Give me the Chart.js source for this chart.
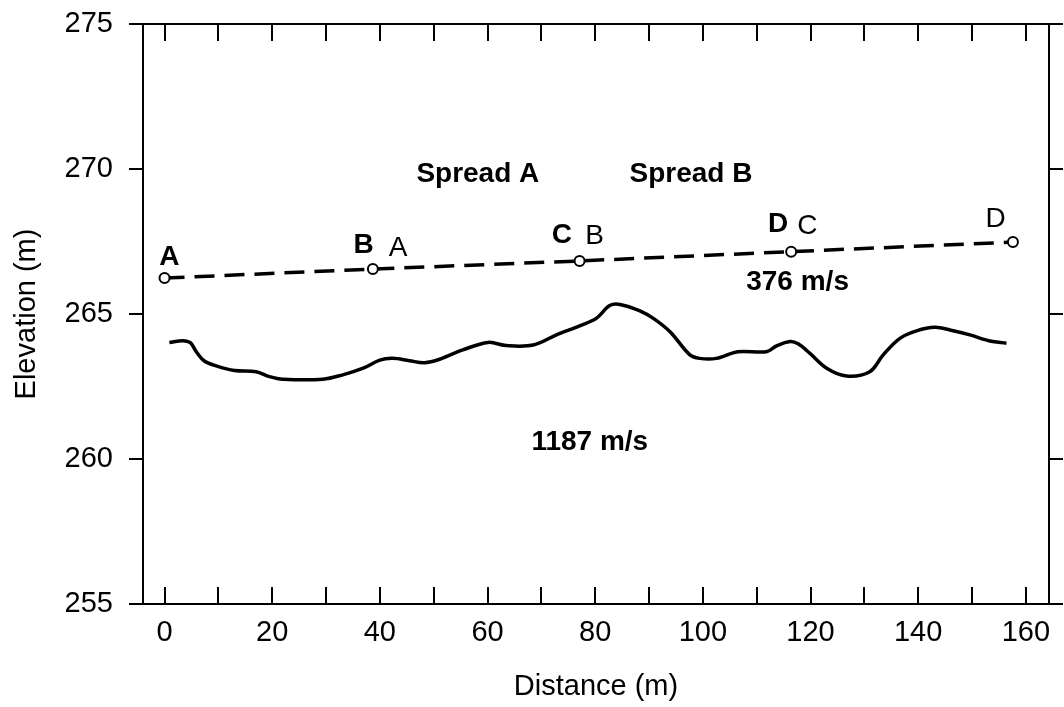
<!DOCTYPE html>
<html>
<head>
<meta charset="utf-8">
<script src="https://cdn.jsdelivr.net/npm/chart.js@4.4.0/dist/chart.umd.min.js"></script>
<style>
  html, body { margin: 0; padding: 0; background: #fff; }
  #wrap { width: 1064px; height: 707px; }
</style>
</head>
<body>
<div id="wrap"><canvas id="profile"></canvas></div>
<script>
const FONT = '"Liberation Sans", Arial, Helvetica, sans-serif';

// axis ticks
const distanceTicks = [0, 20, 40, 60, 80, 100, 120, 140, 160];
const elevationTicks = [255, 260, 265, 270, 275];

// spread end points along the ground surface
const surfaceX = [0, 38.7, 77.1, 116.4, 157.6];
const surfaceY = [266.24, 266.55, 266.83, 267.15, 267.48];

// refractor picked below the line
const refractorX = [0.9, 3.4, 4.8, 5.9, 7.4, 9.6, 13.0, 17.0, 19.5, 22.0, 29.4, 33.1, 36.9, 40.0,
  42.4, 45.5, 48.3, 51.1, 55.4, 60.1, 63.5, 68.5, 72.8, 77.1, 80.2, 82.7, 84.6, 88.3, 90.8,
  93.9, 97.6, 99.4, 102.5, 106.5, 111.8, 113.7, 116.2, 117.7, 119.9, 123.0, 126.7, 131.0,
  133.5, 136.6, 139.7, 143.1, 145.9, 149.6, 153.3, 156.4];
const refractorY = [264.02, 264.08, 264.01, 263.70, 263.38, 263.21, 263.05, 263.01, 262.84, 262.75,
  262.75, 262.90, 263.13, 263.41, 263.47, 263.39, 263.32, 263.44, 263.76, 264.02, 263.91,
  263.93, 264.28, 264.59, 264.85, 265.29, 265.33, 265.11, 264.85, 264.39, 263.59, 263.47,
  263.47, 263.70, 263.70, 263.90, 264.05, 263.97, 263.64, 263.13, 262.86, 263.01, 263.59,
  264.16, 264.42, 264.54, 264.45, 264.28, 264.07, 263.99];

// text placed on the plot, anchored at (distance, elevation) of its baseline centre
const plotNotes = [
  { text: 'A', x: 0.9, y: 266.69, bold: true },
  { text: 'B', x: 37.0, y: 267.10, bold: true },
  { text: 'A', x: 43.4, y: 267.00, bold: false },
  { text: 'C', x: 73.8, y: 267.45, bold: true },
  { text: 'B', x: 79.9, y: 267.41, bold: false },
  { text: 'D', x: 114.0, y: 267.83, bold: true },
  { text: 'C', x: 119.4, y: 267.76, bold: false },
  { text: 'D', x: 154.4, y: 268.00, bold: false },
  { text: 'Spread A', x: 58.2, y: 269.55, bold: true },
  { text: 'Spread B', x: 97.8, y: 269.55, bold: true },
  { text: '376 m/s', x: 117.6, y: 265.83, bold: true },
  { text: '1187 m/s', x: 79.0, y: 260.31, bold: true }
];

const toPoints = (xs, ys) => xs.map((v, i) => ({ x: v, y: ys[i] }));
const fixTicks = list => scale => { scale.ticks = list.map(v => ({ value: v })); };

// frame top edge, inward distance ticks and the plot text
const framePlugin = {
  id: 'framePlugin',
  afterDraw(chart) {
    const { ctx, chartArea: a, scales: { x, y } } = chart;
    ctx.save();
    ctx.strokeStyle = '#000';
    ctx.lineWidth = 2;
    ctx.beginPath();
    ctx.moveTo(a.left, a.top);
    ctx.lineTo(a.right, a.top);
    const step = (distanceTicks[1] - distanceTicks[0]) / 2;
    for (let v = distanceTicks[0]; v <= distanceTicks[distanceTicks.length - 1]; v += step) {
      const px = Math.round(x.getPixelForValue(v));
      ctx.moveTo(px, a.top);
      ctx.lineTo(px, a.top + 17);
      ctx.moveTo(px, a.bottom);
      ctx.lineTo(px, a.bottom - 17);
    }
    ctx.stroke();

    ctx.fillStyle = '#000';
    ctx.textAlign = 'center';
    ctx.textBaseline = 'alphabetic';
    plotNotes.forEach(n => {
      ctx.font = (n.bold ? 'bold ' : '') + '28px ' + FONT;
      ctx.fillText(n.text, x.getPixelForValue(n.x), y.getPixelForValue(n.y));
    });
    ctx.restore();
  }
};

// fixed box width, and no extra room reserved for the end labels
const fitVertical = width => s => {
  s.width = width;
  s.paddingTop = 0;
  s.paddingBottom = 0;
};

const yCommon = {
  type: 'linear',
  min: 255,
  max: 275,
  afterBuildTicks: fixTicks(elevationTicks),
  grid: { drawOnChartArea: false, drawTicks: true, tickLength: 14, color: '#000', lineWidth: 2 },
  border: { color: '#000', width: 2 }
};

new Chart(document.getElementById('profile'), {
  type: 'scatter',
  data: {
    datasets: [
      {
        label: 'Surface',
        data: toPoints(surfaceX, surfaceY),
        showLine: true,
        borderColor: '#000',
        borderWidth: 3.5,
        borderDash: [20, 10],
        pointRadius: 5,
        pointBorderWidth: 2,
        pointBackgroundColor: '#fff',
        pointBorderColor: '#000'
      },
      {
        label: 'Refractor',
        data: toPoints(refractorX, refractorY),
        showLine: true,
        borderColor: '#000',
        borderWidth: 3.5,
        tension: 0.35,
        pointRadius: 0
      }
    ]
  },
  options: {
    responsive: true,
    maintainAspectRatio: false,
    animation: false,
    layout: { padding: { top: 24, left: 0, right: 0, bottom: 0 } },
    plugins: {
      legend: { display: false },
      tooltip: { enabled: false }
    },
    scales: {
      x: {
        type: 'linear',
        min: -4,
        max: 164.3,
        afterBuildTicks: fixTicks(distanceTicks),
        afterFit: s => { s.height = 103; },
        grid: { display: false, drawTicks: false },
        border: { color: '#000', width: 2 },
        ticks: {
          color: '#000',
          padding: 12,
          maxRotation: 0,
          autoSkip: false,
          font: { family: FONT, size: 29 }
        },
        title: {
          display: true,
          text: 'Distance (m)',
          color: '#000',
          padding: { top: 0, bottom: 3 },
          font: { family: FONT, size: 29 }
        }
      },
      y: {
        ...yCommon,
        position: 'left',
        afterFit: fitVertical(143),
        ticks: { color: '#000', padding: 16, font: { family: FONT, size: 29 } },
        title: {
          display: true,
          text: 'Elevation (m)',
          color: '#000',
          padding: { top: 10, bottom: 0 },
          font: { family: FONT, size: 29 }
        }
      },
      y2: {
        ...yCommon,
        position: 'right',
        afterFit: fitVertical(15),
        ticks: { display: false }
      }
    }
  },
  plugins: [framePlugin]
});
</script>
</body>
</html>
